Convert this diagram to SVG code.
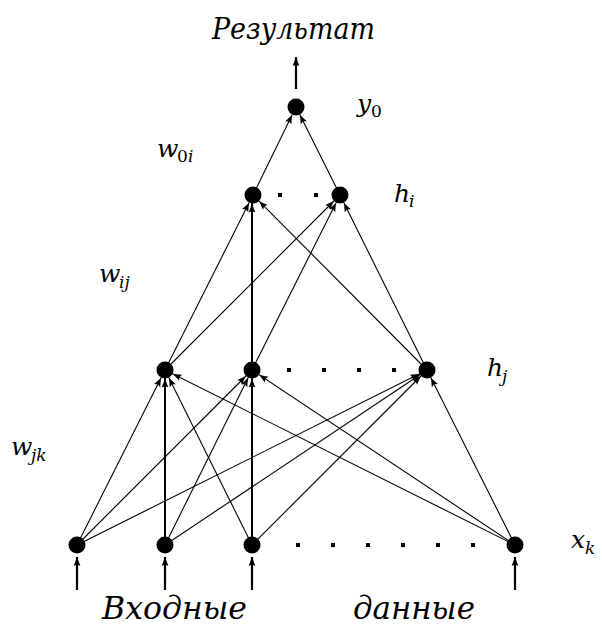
<svg xmlns="http://www.w3.org/2000/svg" width="602" height="628" viewBox="0 0 602 628">
<defs>
<marker id="ah" markerUnits="userSpaceOnUse" markerWidth="40" markerHeight="20" viewBox="-20 -10 40 20" refX="0" refY="0" orient="auto" overflow="visible">
<path d="M-9,0 L-17.5,-3.4 L-16,0 L-17.5,3.4 z" fill="#000"/>
</marker>
<marker id="ah2" markerUnits="userSpaceOnUse" markerWidth="20" markerHeight="20" viewBox="-10 -10 20 20" refX="0" refY="0" orient="auto" overflow="visible">
<path d="M0,0 L-9,-3.4 L-7.5,0 L-9,3.4 z" fill="#000"/>
</marker>
</defs>
<style>
.c line{stroke:#000;stroke-width:1.1;marker-end:url(#ah)}
.c line.v{stroke-width:2}
.io line{stroke:#000;stroke-width:2.2;marker-end:url(#ah2)}
.n{fill:#000}
text{font-family:'DejaVu Serif','Liberation Serif',serif;fill:#000}
.t{font-style:italic}
.s{font-style:italic;font-size:17px}
.d{font-size:17px}
.dot{fill:#000}
</style>
<g id="connectors" class="c">
<line x1="253" y1="195" x2="296" y2="107"/>
<line x1="340" y1="195" x2="296" y2="107"/>
<line x1="165" y1="370" x2="253" y2="195"/>
<line class="v" x1="252" y1="370" x2="252" y2="195"/>
<line x1="427" y1="370" x2="253" y2="195"/>
<line x1="165" y1="370" x2="340" y2="195"/>
<line x1="252" y1="370" x2="340" y2="195"/>
<line x1="427" y1="370" x2="340" y2="195"/>
<line x1="77" y1="545" x2="165" y2="370"/>
<line class="v" x1="165" y1="545" x2="165" y2="370"/>
<line x1="252" y1="545" x2="165" y2="370"/>
<line x1="515" y1="545" x2="165" y2="370"/>
<line x1="77" y1="545" x2="252" y2="370"/>
<line x1="165" y1="545" x2="252" y2="370"/>
<line class="v" x1="252" y1="545" x2="252" y2="370"/>
<line x1="515" y1="545" x2="252" y2="370"/>
<line x1="77" y1="545" x2="427" y2="370"/>
<line x1="165" y1="545" x2="427" y2="370"/>
<line x1="252" y1="545" x2="427" y2="370"/>
<line x1="515" y1="545" x2="427" y2="370"/>
</g>
<g id="io-arrows" class="io">
<line x1="296" y1="89" x2="296" y2="57"/>
<line x1="77" y1="590" x2="77" y2="557"/>
<line x1="165" y1="590" x2="165" y2="557"/>
<line x1="252" y1="590" x2="252" y2="557"/>
<line x1="515" y1="590" x2="515" y2="557"/>
</g>
<g id="n-y0"><circle class="n" cx="296" cy="107" r="8.5"/></g>
<g id="n-hi1"><circle class="n" cx="253" cy="195" r="8.5"/></g>
<g id="n-hi2"><circle class="n" cx="340" cy="195" r="8.5"/></g>
<g id="n-hj1"><circle class="n" cx="165" cy="370" r="8.5"/></g>
<g id="n-hj2"><circle class="n" cx="252" cy="370" r="8.5"/></g>
<g id="n-hj3"><circle class="n" cx="427" cy="370" r="8.5"/></g>
<g id="n-x1"><circle class="n" cx="77" cy="545" r="8.5"/></g>
<g id="n-x2"><circle class="n" cx="165" cy="545" r="8.5"/></g>
<g id="n-x3"><circle class="n" cx="252" cy="545" r="8.5"/></g>
<g id="n-x4"><circle class="n" cx="515" cy="545" r="8.5"/></g>
<g id="ellipses">
<rect class="dot" x="278" y="193" width="4" height="4"/>
<rect class="dot" x="314" y="193" width="4" height="4"/>
<rect class="dot" x="287" y="368" width="4" height="4"/>
<rect class="dot" x="322" y="368" width="4" height="4"/>
<rect class="dot" x="357" y="368" width="4" height="4"/>
<rect class="dot" x="392" y="368" width="4" height="4"/>
<rect class="dot" x="296" y="543" width="4" height="4"/>
<rect class="dot" x="331" y="543" width="4" height="4"/>
<rect class="dot" x="366" y="543" width="4" height="4"/>
<rect class="dot" x="401" y="543" width="4" height="4"/>
<rect class="dot" x="436" y="543" width="4" height="4"/>
<rect class="dot" x="471" y="543" width="4" height="4"/>
</g>
<g id="labels">
<text class="t" x="212" y="39" font-size="29" textLength="163" lengthAdjust="spacingAndGlyphs">Результат</text>
<text class="t" x="357" y="112" font-size="25">y</text><text class="d" x="371" y="117">0</text>
<text class="t" x="157" y="157" font-size="25">w</text><text class="d" x="177" y="162">0</text><text class="s" x="188" y="162">i</text>
<text class="t" x="394" y="202" font-size="25">h</text><text class="s" x="409" y="207">i</text>
<text class="t" x="99" y="282" font-size="25">w</text><text class="s" x="119" y="288">ij</text>
<text class="t" x="487" y="376" font-size="25">h</text><text class="s" x="502" y="382">j</text>
<text class="t" x="11" y="455" font-size="25">w</text><text class="s" x="31" y="461">jk</text>
<text class="t" x="571" y="548" font-size="25">x</text><text class="s" x="585" y="554">k</text>
<text class="t" x="102" y="619" font-size="31" textLength="145" lengthAdjust="spacingAndGlyphs">Входные</text>
<text class="t" x="353" y="619" font-size="31" textLength="122" lengthAdjust="spacingAndGlyphs">данные</text>
</g>
</svg>
